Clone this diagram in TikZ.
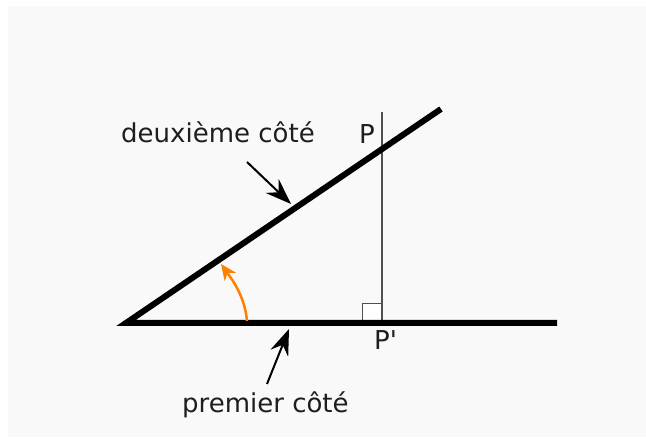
\documentclass[tikz,border=0pt]{standalone}
\usepackage{fontspec}
\setmainfont{DejaVu Sans}[Ligatures=TeXOff]
\usetikzlibrary{arrows.meta}
\definecolor{bgc}{RGB}{249,249,249}
\definecolor{orangec}{RGB}{255,128,0}
\definecolor{txt}{RGB}{30,30,30}
\definecolor{thin}{RGB}{80,80,80}
\begin{document}
\begin{tikzpicture}[x=1pt,y=-1pt,
  side/.style={line width=6pt, line join=miter, miter limit=20},
  lbl/.style={inner sep=0pt, anchor=base west, font=\fontsize{26}{30}\selectfont, text=txt},
  pointer/.style={line width=2pt, -{Stealth[length=26pt,width=19pt,inset=9pt]}},
  anglearrow/.style={orangec, line width=2.5pt, -{Stealth[length=16pt,width=14pt,inset=5pt]}}]
\useasboundingbox (0,0) rectangle (646,446);
\fill[bgc] (8,6) rectangle (646,437);
% points
\coordinate (O) at (126,323);
\coordinate (A) at (557,323);
\coordinate (B) at (441,109);
\coordinate (Pp) at (382,323);
\coordinate (P) at (382,112);
\coordinate (SqA) at (362,303);
% right-angle mark and perpendicular
\draw[line width=0.8pt, draw=thin, fill=white] (SqA) rectangle (Pp);
\draw[line width=1.5pt, draw=thin] (P) -- (Pp);
% the two sides
\draw[side] (A) -- (O) -- (B);
% labels
\node[lbl] (l2) at (121,143) {deuxième côté};
\node[lbl] (lP) at (359,144) {P};
\node[lbl] (lPp) at (374,350) {P'};
\node[lbl] (l1) at (182,413) {premier côté};
% pointers
\coordinate (a2s) at (247,162);
\coordinate (a2e) at (291,204);
\coordinate (a1s) at (267,384);
\coordinate (a1e) at (289,329);
\draw[pointer] (a2s) -- (a2e);
\draw[pointer] (a1s) -- (a1e);
% angle arrow
\coordinate (os) at (247,321);
\coordinate (oe) at (221,264);
\draw[anglearrow] (os) .. controls (245,298) and (234,282) .. (oe);
\end{tikzpicture}
\end{document}
